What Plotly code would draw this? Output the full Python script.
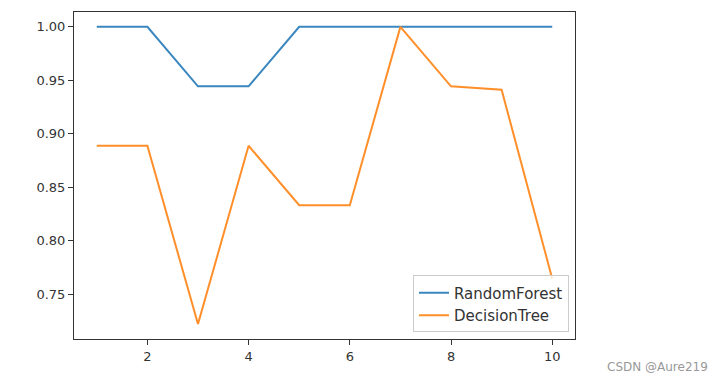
import plotly.graph_objects as go

x_vals = [1, 2, 3, 4, 5, 6, 7, 8, 9, 10]
random_forest = [1.0, 1.0, 17/18, 17/18, 1.0, 1.0, 1.0, 1.0, 1.0, 1.0]
decision_tree = [16/18, 16/18, 13/18, 16/18, 15/18, 15/18, 1.0, 17/18, 16/17, 13/17]
x_ticks = [2, 4, 6, 8, 10]
y_ticks = [0.75, 0.80, 0.85, 0.90, 0.95, 1.00]
y_tick_labels = ["0.75", "0.80", "0.85", "0.90", "0.95", "1.00"]

fig = go.Figure()
fig.add_trace(go.Scatter(x=x_vals, y=random_forest, mode="lines", name="RandomForest",
                         line=dict(color="#3a86bf", width=2)))
fig.add_trace(go.Scatter(x=x_vals, y=decision_tree, mode="lines", name="DecisionTree",
                         line=dict(color="#ff8f2a", width=2)))

axis_common = dict(showgrid=False, zeroline=False, showline=True, linecolor="#333",
                   linewidth=1, mirror=True, ticks="outside", ticklen=5, tickcolor="#333",
                   tickfont=dict(family="DejaVu Sans", size=13, color="#333"))
fig.update_xaxes(range=[0.55, 10.45], tickvals=x_ticks, **axis_common)
fig.update_yaxes(range=[0.7083, 1.0139], tickvals=y_ticks, ticktext=y_tick_labels, **axis_common)

fig.update_layout(
    width=718, height=372,
    margin=dict(l=66, r=151, t=4, b=41),
    plot_bgcolor="white", paper_bgcolor="white",
    font=dict(family="DejaVu Sans", size=13, color="#333"),
    legend=dict(x=0.988, y=0.02, xanchor="right", yanchor="bottom",
                bordercolor="#ccc", borderwidth=1, bgcolor="rgba(255,255,255,0.8)",
                itemwidth=30, tracegroupgap=0,
                font=dict(size=15, color="#333")),
    annotations=[dict(text="CSDN @Aure219", xref="paper", yref="paper",
                      x=1.27, y=-0.086, xanchor="right", yanchor="middle",
                      showarrow=False, font=dict(size=12, color="#999"))],
)

fig.write_html("out.html")
